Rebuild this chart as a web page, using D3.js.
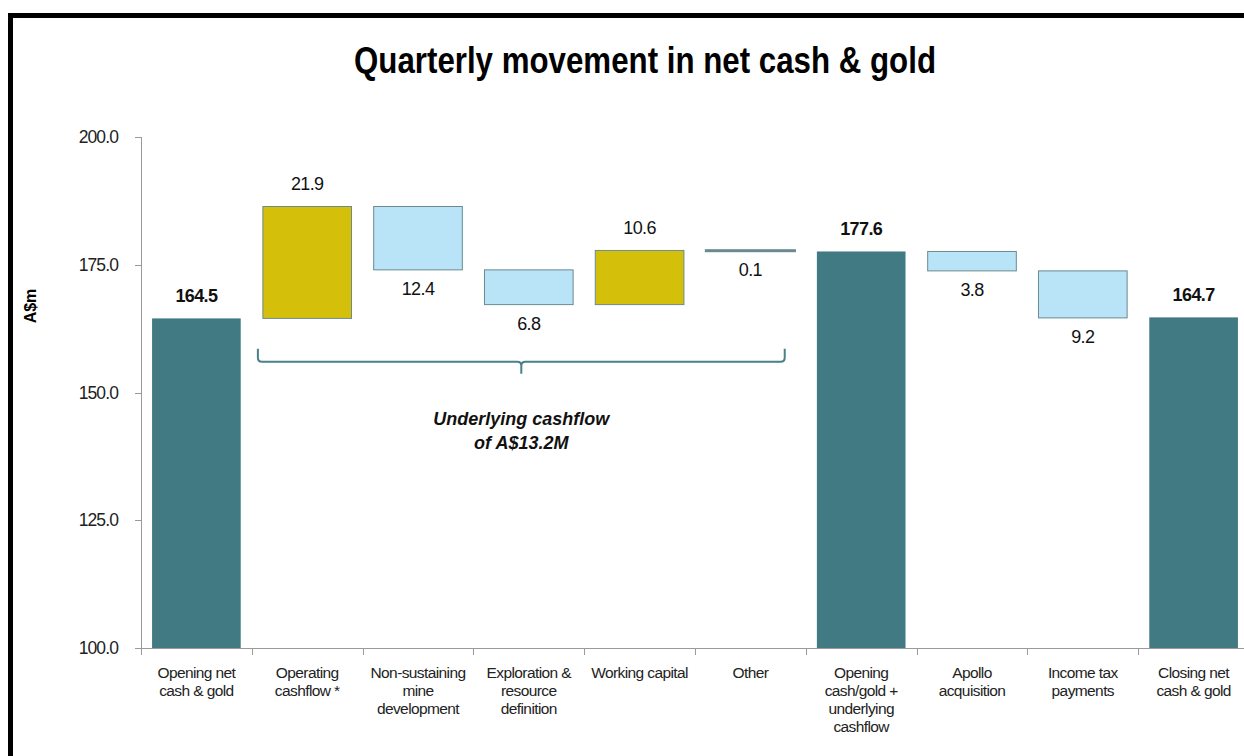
<!DOCTYPE html>
<html>
<head>
<meta charset="utf-8">
<script src="https://cdn.jsdelivr.net/npm/d3@7"></script>
<style>
  body { margin: 0; background: #fff; }
  svg { display: block; font-family: "Liberation Sans", Arial, sans-serif; }
</style>
</head>
<body>
<svg id="chart" width="1244" height="756"></svg>
<script>
// Chart data
var categories = [
  ["Opening net", "cash & gold"],
  ["Operating", "cashflow *"],
  ["Non-sustaining", "mine", "development"],
  ["Exploration &", "resource", "definition"],
  ["Working capital"],
  ["Other"],
  ["Opening", "cash/gold +", "underlying", "cashflow"],
  ["Apollo", "acquisition"],
  ["Income tax", "payments"],
  ["Closing net", "cash & gold"]
];
// type: total / up / down
var kinds = ["total", "up", "down", "down", "up", "down", "total", "down", "down", "total"];
var values = [164.5, 21.9, 12.4, 6.8, 10.6, 0.1, 177.6, 3.8, 9.2, 164.7];
var yTicks = [100, 125, 150, 175, 200];

var colors = { total: "#417a82", up: "#d4c00a", down: "#b9e3f7" };

var svg = d3.select("#chart");
var W = 1244, H = 756;

// Frame
svg.append("line").attr("x1", 8).attr("x2", W).attr("y1", 15.5).attr("y2", 15.5)
  .attr("stroke", "#000").attr("stroke-width", 5);
svg.append("line").attr("x1", 10.5).attr("x2", 10.5).attr("y1", 13).attr("y2", H)
  .attr("stroke", "#000").attr("stroke-width", 5);

// Title
svg.append("text")
  .attr("x", 645).attr("y", 73)
  .attr("text-anchor", "middle")
  .attr("font-size", 36).attr("font-weight", "bold")
  .attr("textLength", 582).attr("lengthAdjust", "spacingAndGlyphs")
  .text("Quarterly movement in net cash & gold");

var x = d3.scaleBand()
  .domain(d3.range(categories.length))
  .range([141, 1249])
  .paddingInner(0.2)
  .paddingOuter(0.1);

var y = d3.scaleLinear().domain([100, 200]).range([648, 137]);

// Compute waterfall spans
var bars = [];
var running = 0;
values.forEach(function(v, i) {
  var k = kinds[i];
  var lo, hi;
  if (k === "total") {
    lo = 100; hi = v; running = v;
  } else if (k === "up") {
    lo = running; hi = running + v; running = hi;
  } else {
    hi = running; lo = running - v; running = lo;
  }
  bars.push({ i: i, kind: k, value: v, lo: lo, hi: hi });
});

// Y axis
svg.append("line").attr("x1", 141.5).attr("x2", 141.5).attr("y1", y(200)).attr("y2", y(100))
  .attr("stroke", "#9a9a9a").attr("stroke-width", 1);
yTicks.forEach(function(t) {
  svg.append("line").attr("x1", 135).attr("x2", 141.5)
    .attr("y1", Math.round(y(t)) + 0.5).attr("y2", Math.round(y(t)) + 0.5)
    .attr("stroke", "#9a9a9a");
  svg.append("text").attr("x", 118).attr("y", y(t) + 6)
    .attr("text-anchor", "end").attr("font-size", 17.5).attr("fill", "#222")
    .attr("letter-spacing", -0.9)
    .text(d3.format(".1f")(t));
});

// X axis
svg.append("line").attr("x1", 135).attr("x2", W).attr("y1", 648.5).attr("y2", 648.5)
  .attr("stroke", "#9a9a9a");
d3.range(categories.length + 1).forEach(function(j) {
  var xx = Math.round(141 + j * x.step()) + 0.5;
  svg.append("line").attr("x1", xx).attr("x2", xx).attr("y1", 648.5).attr("y2", 655)
    .attr("stroke", "#9a9a9a");
});

// Bars
svg.selectAll("rect.bar").data(bars).enter().append("rect")
  .attr("class", "bar")
  .attr("x", function(d) { return x(d.i); })
  .attr("width", x.bandwidth())
  .attr("y", function(d) { return y(d.hi); })
  .attr("height", function(d) { return Math.max(y(d.lo) - y(d.hi), 0); })
  .attr("fill", function(d) { return colors[d.kind]; })
  .attr("stroke", function(d) { return d.kind === "total" ? "none" : "#6a8a92"; })
  .attr("stroke-width", function(d) { return d.value < 1 ? 2.5 : 1; });

// Value labels
svg.selectAll("text.val").data(bars).enter().append("text")
  .attr("class", "val")
  .attr("x", function(d) { return x(d.i) + x.bandwidth() / 2; })
  .attr("y", function(d) {
    return d.kind === "down" ? y(d.lo) + 25 : y(d.hi) - 16;
  })
  .attr("text-anchor", "middle")
  .attr("font-size", 18)
  .attr("font-weight", function(d) { return d.kind === "total" ? "bold" : "normal"; })
  .attr("fill", "#111")
  .attr("letter-spacing", -0.6)
  .text(function(d) { return d3.format(".1f")(d.value); });

// Category labels
categories.forEach(function(lines, i) {
  var t = svg.append("text")
    .attr("x", x(i) + x.bandwidth() / 2)
    .attr("y", 678)
    .attr("text-anchor", "middle")
    .attr("font-size", 15.5)
    .attr("fill", "#222")
    .attr("letter-spacing", -0.6);
  lines.forEach(function(l, k) {
    t.append("tspan").attr("x", x(i) + x.bandwidth() / 2).attr("dy", k === 0 ? 0 : 18).text(l);
  });
});

// Y axis title
svg.append("text")
  .attr("transform", "translate(36,306) rotate(-90)")
  .attr("text-anchor", "middle")
  .attr("font-size", 16).attr("font-weight", "bold")
  .text("A$m");

// Underlying cashflow bracket
var bx0 = x(1) - 5, bx1 = x(5) + x.bandwidth() - 10;
var by = y(156), bmid = (bx0 + bx1) / 2;
var r = 4;
var path = d3.path();
path.moveTo(bx0, by - 13);
path.lineTo(bx0, by - r);
path.quadraticCurveTo(bx0, by, bx0 + r, by);
path.lineTo(bmid - r, by);
path.quadraticCurveTo(bmid, by, bmid, by + r);
path.lineTo(bmid, by + 12);
path.moveTo(bmid, by + r);
path.quadraticCurveTo(bmid, by, bmid + r, by);
path.lineTo(bx1 - r, by);
path.quadraticCurveTo(bx1, by, bx1, by - r);
path.lineTo(bx1, by - 13);
svg.append("path").attr("d", path.toString())
  .attr("fill", "none").attr("stroke", "#4a8088").attr("stroke-width", 2);

var note = svg.append("text")
  .attr("x", bmid).attr("y", 425)
  .attr("text-anchor", "middle")
  .attr("font-size", 18).attr("font-weight", "bold").attr("font-style", "italic")
  .attr("fill", "#111");
note.append("tspan").attr("x", bmid).attr("dy", 0).text("Underlying  cashflow");
note.append("tspan").attr("x", bmid).attr("dy", 24).text("of A$13.2M");
</script>
</body>
</html>
